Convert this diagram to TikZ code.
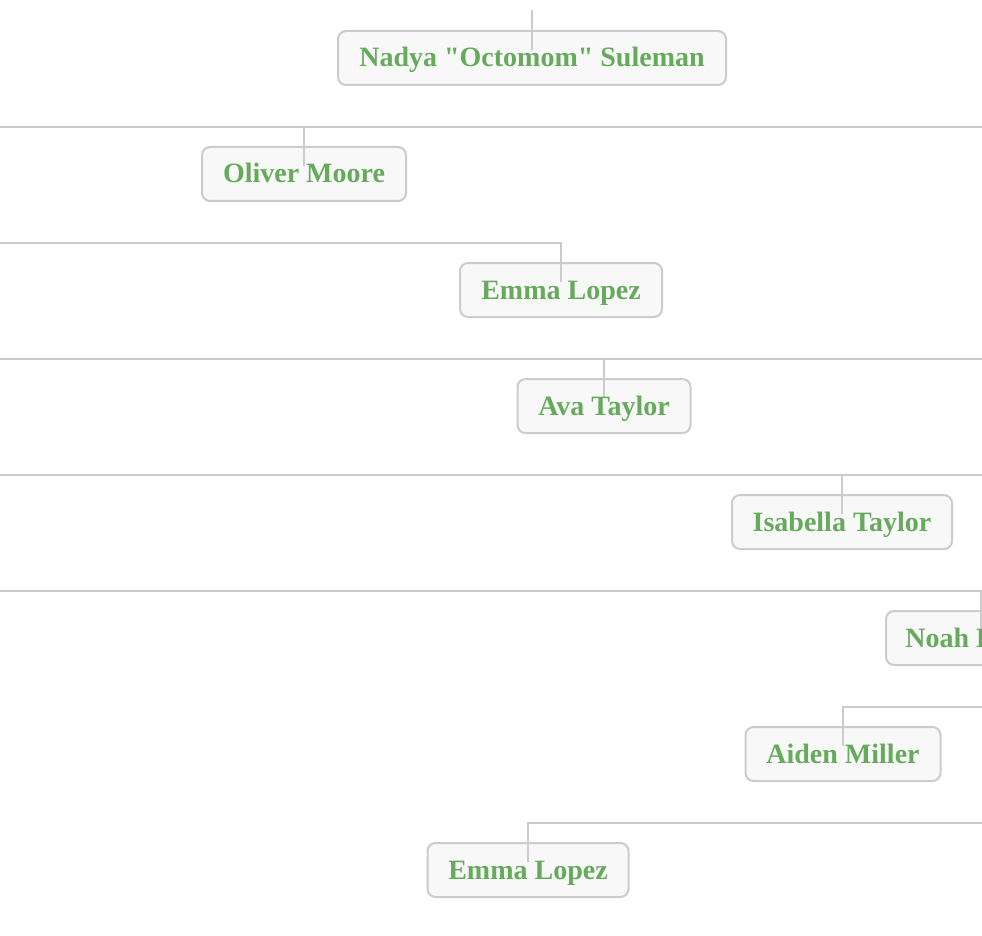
\documentclass[tikz,border=0pt]{standalone}
\usepackage{fontspec}
\setmainfont{Liberation Serif}[Ligatures=TeXOff]
\definecolor{boxline}{HTML}{CCCCCC}
\definecolor{boxfill}{HTML}{F8F8F8}
\definecolor{namegreen}{HTML}{66AA5C}
\tikzset{
  pbox/.style={draw=boxline, fill=boxfill, line width=2pt, rounded corners=8pt, inner sep=0pt, minimum height=54pt},
  conn/.style={draw=boxline, line width=2pt},
  pname/.style={text=namegreen, font=\fontsize{28}{34}\selectfont\bfseries, inner sep=0pt, anchor=base}
}
\begin{document}
\begin{tikzpicture}[x=1pt, y=-1pt]
\useasboundingbox (0,0) rectangle (982,936);
\clip (0,0) rectangle (982,936);
% boxes
\node[pbox, minimum width=388pt] (b1) at (532,58) {};
\node[pbox, minimum width=204pt] (b2) at (304,174) {};
\node[pbox, minimum width=202pt] (b3) at (561,290) {};
\node[pbox, minimum width=173pt] (b4) at (604,406) {};
\node[pbox, minimum width=220pt] (b5) at (842,522) {};
\node[pbox, minimum width=190pt] (b6) at (981,638) {};
\node[pbox, minimum width=195pt] (b7) at (843,754) {};
\node[pbox, minimum width=201pt] (b8) at (528,870) {};
% connector end points
\coordinate (t1) at (532,10);
\coordinate (h2l) at (0,127);  \coordinate (h2r) at (982,127);
\coordinate (h3l) at (0,243);
\coordinate (h4l) at (0,359);  \coordinate (h4r) at (982,359);
\coordinate (h5l) at (0,475);  \coordinate (h5r) at (982,475);
\coordinate (h6l) at (0,591);
\coordinate (h7r) at (982,707);
\coordinate (h8r) at (982,823);
% connectors
\draw[conn] (t1) -- ([yshift=8pt]b1.center);
\draw[conn] (h2l) -- (h2r);
\draw[conn] (b2.center |- h2l) -- ([yshift=8pt]b2.center);
\draw[conn] (h3l) -| ([yshift=8pt]b3.center);
\draw[conn] (h4l) -- (h4r);
\draw[conn] (b4.center |- h4l) -- ([yshift=8pt]b4.center);
\draw[conn] (h5l) -- (h5r);
\draw[conn] (b5.center |- h5l) -- ([yshift=8pt]b5.center);
\draw[conn] (h6l) -| ([yshift=8pt]b6.center);
\draw[conn] (h7r) -| ([yshift=8pt]b7.center);
\draw[conn] (h8r) -| ([yshift=8pt]b8.center);
% names
\node[pname] (n1) at ([yshift=-9pt]b1.center) {Nadya "Octomom" Suleman};
\node[pname] (n2) at ([yshift=-9pt]b2.center) {Oliver Moore};
\node[pname] (n3) at ([yshift=-9pt]b3.center) {Emma Lopez};
\node[pname] (n4) at ([yshift=-9pt]b4.center) {Ava Taylor};
\node[pname] (n5) at ([yshift=-9pt]b5.center) {Isabella Taylor};
\node[pname] (n6) at ([yshift=-9pt]b6.center) {Noah Brown};
\node[pname] (n7) at ([yshift=-9pt]b7.center) {Aiden Miller};
\node[pname] (n8) at ([yshift=-9pt]b8.center) {Emma Lopez};
\end{tikzpicture}
\end{document}
